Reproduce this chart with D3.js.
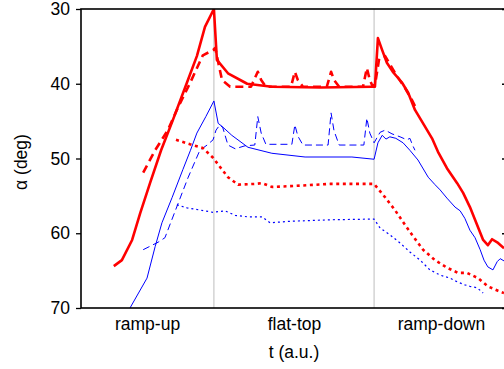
<!DOCTYPE html>
<html>
<head>
<meta charset="utf-8">
<script src="https://cdn.jsdelivr.net/npm/d3@7/dist/d3.min.js"></script>
<style>
    body { margin: 0; background: #fff; }
    text { font-family: "Liberation Sans", Arial, sans-serif; fill: #000; }
</style>
</head>
<body>
<div id="chart-area"></div>
<script>
// values: [t (a.u.), alpha (deg)]
var redSolid = [[0.77,64.4],[0.96,63.6],[1.2,60.9],[1.39,57.3],[1.62,53.3],[1.88,48.9],[2.14,45.1],
    [2.51,39.5],[2.72,36.3],[2.91,32.4],[3.12,30.0],[3.19,36.8],[3.45,38.6],[3.9,40.0],[4.48,40.4],
    [5.61,40.5],[6.83,40.4],[6.9,40.4],[6.97,33.9],[7.07,35.5],[7.18,37.2],[7.32,38.4],[7.53,39.8],
    [7.68,41.2],[7.84,43.5],[8.03,45.3],[8.24,47.3],[8.38,49.1],[8.59,51.3],[8.83,53.3],[8.97,54.6],
    [9.13,56.5],[9.32,59.2],[9.44,60.9],[9.55,61.6],[9.65,60.8],[9.79,61.3],[9.93,62.0]];

var redDashed = [[1.46,51.9],[1.74,48.9],[2.04,46.2],[2.25,43.5],[2.56,39.9],[2.86,36.2],[3.1,35.5],
    [3.15,35.2],[3.22,37.1],[3.31,39.5],[3.5,40.4],[3.99,40.4],
    [4.15,38.4],[4.23,39.5],[4.34,40.4],
    [4.93,40.4],[5.02,38.4],[5.09,39.5],[5.21,40.4],
    [5.77,40.4],[5.87,38.4],[5.94,39.5],[6.06,40.4],
    [6.62,40.4],[6.71,37.9],[6.78,39.5],[6.85,40.4],
    [6.92,39.5],[7.0,36.6],[7.14,36.3],[7.25,37.4],[7.42,39.0],[7.61,40.6],[7.77,42.2],[7.86,43.2]];

var redDotted = [[2.23,47.5],[2.56,48.1],[2.86,48.6],[3.1,49.9],[3.26,51.1],[3.45,52.5],[3.69,53.5],
    [4.08,53.4],[4.25,53.3],[4.48,53.8],[4.91,53.7],[5.85,53.4],[6.88,53.4],[7.14,55.2],[7.37,56.9],
    [7.56,58.5],[7.77,60.2],[8.03,62.2],[8.31,63.6],[8.59,64.6],[8.85,65.3],[9.06,65.3],[9.32,66.0],
    [9.55,67.1],[9.79,67.7],[9.93,68.0]];

var blueSolid = [[1.15,70.0],[1.55,66.0],[1.74,61.8],[1.9,58.6],[2.14,55.2],[2.39,51.5],[2.57,48.9],
    [2.72,46.6],[2.93,44.4],[3.12,42.3],[3.22,45.3],[3.31,45.7],[3.54,46.9],[3.92,48.5],[4.48,49.3],
    [5.26,49.8],[6.36,49.8],[6.88,50.1],[6.97,47.9],[7.07,46.9],[7.16,47.4],[7.25,47.1],[7.39,47.3],
    [7.56,47.9],[7.72,48.9],[7.91,50.2],[8.15,52.5],[8.31,53.5],[8.43,54.2],[8.59,55.3],[8.78,56.5],
    [8.9,57.0],[9.01,58.0],[9.13,59.6],[9.25,60.6],[9.37,62.2],[9.46,63.6],[9.55,64.5],[9.67,64.9],
    [9.77,63.8],[9.84,63.4],[9.93,63.7]];

var blueDashed = [[1.46,62.2],[1.81,61.2],[1.97,60.6],[2.28,56.0],[2.51,52.6],[2.79,48.9],[2.96,48.2],
    [3.1,47.5],[3.17,46.2],[3.26,45.5],[3.33,45.9],[3.45,48.2],[3.62,48.7],[3.85,48.3],[4.08,48.2],
    [4.15,44.4],[4.23,46.6],[4.34,48.1],
    [4.95,48.1],[5.02,45.5],[5.09,47.0],[5.21,48.2],
    [5.8,48.2],[5.87,43.9],[5.94,46.3],[6.06,48.2],
    [6.64,48.2],[6.71,44.6],[6.78,46.6],[6.88,47.9],
    [7.02,46.5],[7.14,46.2],[7.3,46.7],[7.49,47.1],[7.65,47.5],[7.72,47.3],[7.79,48.3],[7.84,48.9]];

var blueDotted = [[2.25,56.2],[2.49,56.6],[3.1,57.2],[3.38,57.0],[3.62,57.6],[3.9,57.8],[4.25,57.8],
    [4.44,58.6],[4.91,58.4],[5.85,58.2],[6.88,58.1],[7.02,59.3],[7.25,60.2],[7.49,61.3],[7.72,62.5],
    [7.96,63.6],[8.19,64.9],[8.43,65.6],[8.66,66.0],[8.83,66.5],[9.01,66.9],[9.13,67.1],[9.3,67.3],
    [9.44,68.0]];

var yTicks = [30, 40, 50, 60, 70];
var xTickPos = [1.55, 5.0, 8.45];
var xTickLabels = ["ramp-up", "flat-top", "ramp-down"];
var phaseBounds = [3.12, 6.88];

var margin = { left: 81, right: 0, top: 9, bottom: 61 };
var width = 426;
var height = 299;

var svg = d3.select("#chart-area")
    .append("svg")
    .attr("width", 504)
    .attr("height", 369);

var g = svg.append("g")
    .attr("transform", "translate(" + margin.left + "," + margin.top + ")");

var x = d3.scaleLinear().domain([0, 10]).range([0, width]);
var y = d3.scaleLinear().domain([30, 70]).range([0, height]);

g.append("clipPath").attr("id", "plot-clip")
    .append("rect").attr("x", 0).attr("y", 0).attr("width", width).attr("height", height);

/// phase separators
g.selectAll(".phase")
    .data(phaseBounds)
    .enter()
    .append("line")
    .attr("class", "phase")
    .attr("x1", function (d) { return x(d); })
    .attr("x2", function (d) { return x(d); })
    .attr("y1", 0)
    .attr("y2", height)
    .attr("stroke", "#bdbdbd")
    .attr("stroke-width", 1);

var line = d3.line()
    .x(function (d) { return x(d[0]); })
    .y(function (d) { return y(d[1]); });

var series = [
    { data: blueDotted, color: "#0000ff", w: 1.2, dash: "2,3" },
    { data: blueDashed, color: "#0000ff", w: 1, dash: "7,4" },
    { data: blueSolid, color: "#0000ff", w: 1, dash: null },
    { data: redDotted, color: "#ff0000", w: 2.6, dash: "3,3.6" },
    { data: redDashed, color: "#ff0000", w: 2.6, dash: "8,5" },
    { data: redSolid, color: "#ff0000", w: 2.6, dash: null }
];

g.append("g")
    .attr("clip-path", "url(#plot-clip)")
    .selectAll("path")
    .data(series)
    .enter()
    .append("path")
    .attr("d", function (d) { return line(d.data); })
    .attr("fill", "none")
    .attr("stroke", function (d) { return d.color; })
    .attr("stroke-width", function (d) { return d.w; })
    .attr("stroke-dasharray", function (d) { return d.dash; })
    .attr("stroke-linejoin", "round");

/// axes
var yAxisCall = d3.axisLeft(y).tickValues(yTicks).tickSize(5).tickPadding(6);
var yAxis = g.append("g").attr("class", "y-axis").call(yAxisCall);
yAxis.select(".domain").remove();

var yRight = d3.axisLeft(y).tickValues(yTicks).tickSize(5).tickFormat("");
var yr = g.append("g").attr("transform", "translate(" + width + ",0)").call(yRight);
yr.select(".domain").remove();
yr.selectAll(".tick line").attr("x2", -5);

var xAxisCall = d3.axisBottom(x)
    .tickValues(xTickPos)
    .tickFormat(function (d, i) { return xTickLabels[i]; })
    .tickSize(0)
    .tickPadding(10);
var xAxis = g.append("g")
    .attr("class", "x-axis")
    .attr("transform", "translate(0," + height + ")")
    .call(xAxisCall);
xAxis.select(".domain").remove();

svg.selectAll(".tick text").attr("font-size", "17.5px").attr("fill", "#000");
svg.selectAll(".tick line").attr("stroke", "#000").attr("stroke-width", 1.3);

/// frame
g.append("rect")
    .attr("x", 0).attr("y", 0)
    .attr("width", width).attr("height", height)
    .attr("fill", "none")
    .attr("stroke", "#000")
    .attr("stroke-width", 1.6);

/// labels
svg.append("text")
    .attr("x", 294)
    .attr("y", 358)
    .attr("font-size", "17.5px")
    .attr("text-anchor", "middle")
    .text("t (a.u.)");

svg.append("text")
    .attr("transform", "translate(27,162) rotate(-90)")
    .attr("font-size", "17.5px")
    .attr("text-anchor", "middle")
    .text("α (deg)");
</script>
</body>
</html>
